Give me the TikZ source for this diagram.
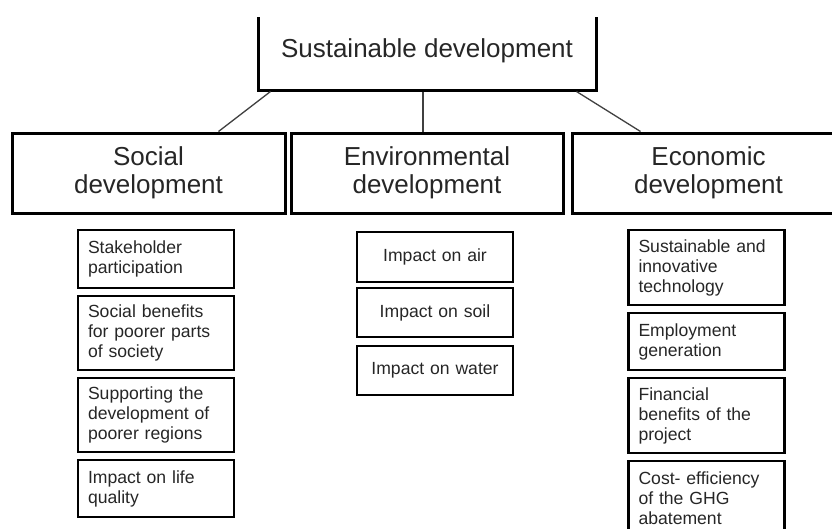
\documentclass[tikz,border=0pt]{standalone}
\usepackage{fontspec}
\setmainfont{Liberation Sans}
\begin{document}
\begin{tikzpicture}[x=1pt,y=-1pt,
  big/.style={draw,line width=3pt,align=center,text=black!85,font=\fontsize{26}{28}\selectfont,inner sep=0pt},
  small/.style={draw,line width=2.8pt,align=left,text=black!85,font=\fontsize{17.6}{20}\selectfont,text width=136pt,inner xsep=10pt,inner ysep=0pt},
  link/.style={draw=black!75,line width=1.3pt}]
\useasboundingbox (0,0) rectangle (832,528);
%\draw[step=50,gray,very thin] (0,0) grid (832,528); %background grid
\clip (0,17) rectangle (832,528);
\node[big,minimum width=338pt,minimum height=78pt] (sd) at (427,51) {Sustainable development};
\node[big,minimum width=273pt,minimum height=80pt] (soc) at (148.5,173) {Social\\development};
\node[big,minimum width=272pt,minimum height=80pt] (env) at (427,173) {Environmental\\development};
\node[big,minimum width=273pt,minimum height=80pt] (eco) at (708.5,173) {Economic\\development};
\draw[link] ([xshift=14pt]sd.south west) -- ([xshift=208pt]soc.north west);
\draw[link] ([xshift=-4pt]sd.south) -- ([xshift=-4pt]env.north);
\draw[link] ([xshift=-21pt]sd.south east) -- ([xshift=70pt]eco.north west);
% social column
\node[small,minimum height=58pt] (soc1) at (156,259) {Stakeholder\\participation};
\node[small,minimum height=74pt] (soc2) at (156,333) {Social benefits\\for poorer parts\\of society};
\node[small,minimum height=74pt] (soc3) at (156,415) {Supporting the\\development of\\poorer regions};
\node[small,minimum height=57pt] (soc4) at (156,488.5) {Impact on life\\quality};
% environmental column
\node[small,align=center,minimum height=50pt] (env1) at (435,257) {Impact on air\\[3pt]};
\node[small,align=center,minimum height=49pt] (env2) at (435,312.5) {Impact on soil\\[3pt]};
\node[small,align=center,minimum height=49pt] (env3) at (435,370.5) {Impact on water\\[3pt]};
% economic column
\node[small,minimum height=75pt] (eco1) at (706.5,267.5) {Sustainable and\\innovative\\technology};
\node[small,minimum height=57pt] (eco2) at (706.5,341.5) {Employment\\generation};
\node[small,minimum height=75pt] (eco3) at (706.5,415.5) {Financial\\benefits of the\\project};
\node[small,minimum height=75pt] (eco4) at (706.5,498.5) {Cost- efficiency\\of the GHG\\abatement};
\end{tikzpicture}
\end{document}
